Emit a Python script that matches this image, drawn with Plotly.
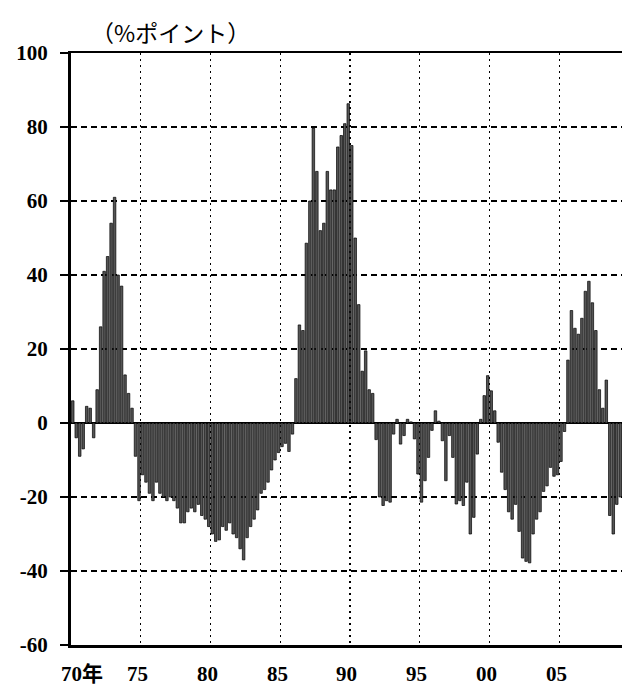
import plotly.graph_objects as go

# Quarterly values (%ポイント), 1970Q1 onward
start_year = 1970
values = [
    6, -4, -9, -7,            # 1970
    4.5, 4, -4, 9,            # 1971
    26, 41, 45, 54,           # 1972
    61, 40, 37, 13,           # 1973
    8, 4, -9, -21,            # 1974
    -14, -16, -19, -21,       # 1975
    -16, -19, -20, -21,       # 1976
    -20, -21, -23, -27,       # 1977
    -27, -24, -23, -24,       # 1978
    -22, -25, -26, -28,       # 1979
    -30, -32, -31.6, -28,     # 1980
    -29, -27, -30, -31,       # 1981
    -34, -37, -31, -28,       # 1982
    -26, -23.5, -19, -18,     # 1983
    -16, -12.7, -10, -8,      # 1984
    -6.4, -5.5, -7.7, -3,     # 1985
    12, 26.5, 25, 48.6,       # 1986
    60, 79.7, 68, 52,         # 1987
    54, 68, 63, 63,           # 1988
    74.6, 77.7, 80.9, 86.3,   # 1989
    75, 50, 32, 14,           # 1990
    19.5, 9, 8, -4.5,         # 1991
    -20, -22.3, -21, -21.4,   # 1992
    -3, 1, -5.7, -3.4,        # 1993
    1, 0.3, -4.3, -13.8,      # 1994
    -21.4, -15.6, -9.3, -2,   # 1995
    3.3, 0.5, -4.8, -15.6,    # 1996
    -3.4, -9.3, -21.9, -21,   # 1997
    -22.3, -16, -30, -25.5,   # 1998
    -8.4, 1, 7.4, 12.8,       # 1999
    8.7, 3.3, -5.2, -13.3,    # 2000
    -18, -24, -26, -22,       # 2001
    -29.3, -36.5, -37.4, -37.8,  # 2002
    -30, -26, -24, -18.5,     # 2003
    -17, -12, -14.4, -14,     # 2004
    -10.4, -2.3, 17, 30.4,    # 2005
    25.6, 24, 28.3, 35.6,     # 2006
    38.3, 32.5, 25, 9,        # 2007
    4, 11.6, -25, -30,        # 2008
    -22, -20,                 # 2009
]

x_tick_years = [1970, 1975, 1980, 1985, 1990, 1995, 2000, 2005]
x_tick_labels = ["70年", "75", "80", "85", "90", "95", "00", "05"]
y_tick_vals = [-60, -40, -20, 0, 20, 40, 60, 80, 100]
y_tick_labels = ["-60", "-40", "-20", "0", "20", "40", "60", "80", "100"]
unit_label = "（%ポイント）"

x = [start_year + i // 4 + (i % 4 + 0.5) / 4 for i in range(len(values))]

fig = go.Figure()
fig.add_trace(go.Bar(
    x=x, y=values, width=0.18,
    marker=dict(color="#555555", line=dict(color="black", width=0.7)),
))

serif = "Liberation Serif"
fig.update_layout(
    width=623, height=691,
    margin=dict(l=71, r=1, t=53, b=46, autoexpand=False),
    paper_bgcolor="white", plot_bgcolor="white",
    showlegend=False,
    bargap=0,
)
fig.update_xaxes(
    range=[1970, 2009.5], automargin=False,
    tickvals=x_tick_years[1:], showticklabels=False, ticks="",
    showgrid=True, gridcolor="black", gridwidth=1.3, griddash="2px,4px",
    showline=True, linecolor="black", linewidth=2.5, mirror=True,
    zeroline=False,
)
fig.update_yaxes(
    range=[-60, 100], automargin=False,
    tickvals=y_tick_vals, ticktext=y_tick_labels,
    ticks="outside", ticklen=8, tickwidth=1.5, tickcolor="black",
    ticklabelstandoff=8,
    tickfont=dict(family=serif, size=21, color="black", weight="bold"),
    showgrid=True, gridcolor="black", gridwidth=1.3, griddash="6px,4px",
    showline=True, linecolor="black", linewidth=3,
    zeroline=True, zerolinecolor="black", zerolinewidth=2.5,
)

for yr, lab in zip(x_tick_years, x_tick_labels):
    if lab.endswith("年"):
        fig.add_annotation(x=yr, y=-60, xref="x", yref="y", yanchor="middle",
                           xanchor="left", xshift=-12, yshift=-29,
                           text=lab, showarrow=False,
                           font=dict(family=serif + ", Noto Sans CJK JP", size=21,
                                     color="black", weight="bold"))
    else:
        fig.add_annotation(x=yr, y=-60, xref="x", yref="y", yanchor="middle",
                           xanchor="center", xshift=-3, yshift=-29,
                           text=lab, showarrow=False,
                           font=dict(family=serif, size=21, color="black", weight="bold"))

fig.add_annotation(
    x=(170 - 71) / 551, y=1 + 21 / 592, xref="paper", yref="paper",
    xanchor="center", yanchor="middle", text=unit_label, showarrow=False,
    font=dict(family="Noto Sans CJK JP", size=23, color="black"))

# remove the default page margin so the figure sits at the window's top-left
page_css = ("document.body.style.margin='0';"
            "document.documentElement.style.overflow='hidden';"
            "document.body.style.overflow='hidden';")
fig.write_html("out.html", post_script=page_css,
               config={"displayModeBar": False, "staticPlot": True})
